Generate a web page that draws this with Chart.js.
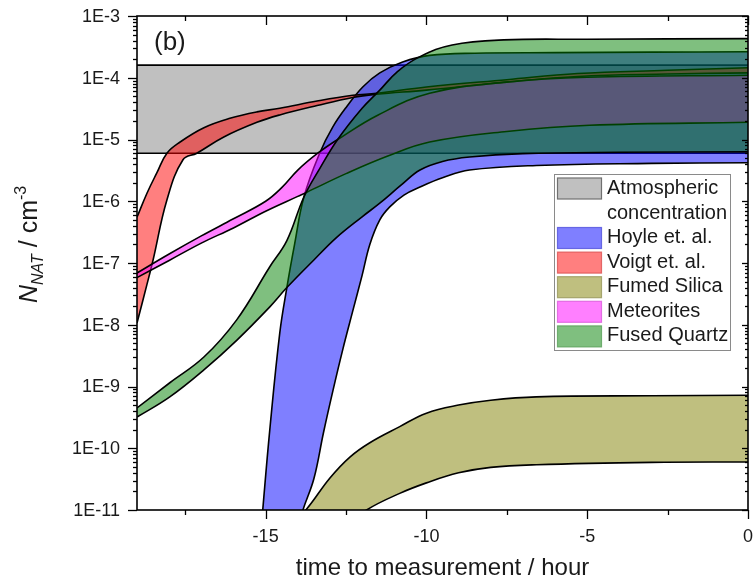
<!DOCTYPE html>
<html>
<head>
<meta charset="utf-8">
<script src="https://cdn.jsdelivr.net/npm/chart.js@4.4.1/dist/chart.umd.min.js"></script>
<style>
  html, body { margin: 0; padding: 0; background: #fff; }
  canvas { display: block; }
</style>
</head>
<body>
<canvas id="chart" width="754" height="583"></canvas>
<script>
// x: time to measurement in hours, y: N_NAT in cm^-3 (log)
const xTicks = [-15, -10, -5, 0];
const xMinorTicks = [-17.5, -12.5, -7.5, -2.5];
const yTicks = [1e-11, 1e-10, 1e-9, 1e-8, 1e-7, 1e-6, 1e-5, 1e-4, 1e-3];

// atmospheric range
const atmX = [-19, 0];
const atmUpper = [1.6e-4, 1.6e-4];
const atmLower = [6e-6, 6e-6];

// Hoyle et. al.
const hoyleUpperX = [-15.3, -15.09, -14.87, -14.56, -14.34, -14.1, -13.81, -13.32, -12.91, -12.48, -11.98, -11.45, -10.74, -9.9, -8.5, -6, -3, 0];
const hoyleUpper = [5e-13, 1e-11, 2.0e-10, 7.4e-9, 4.0e-8, 2.0e-7, 1.17e-6, 6.0e-6, 1.6e-5, 3.4e-5, 7.1e-5, 1.2e-4, 1.8e-4, 2.3e-4, 2.5e-4, 2.55e-4, 2.6e-4, 2.63e-4];
const hoyleLowerX = [-15.3, -14.4, -13.84, -13.5, -13.2, -12.9, -12.6, -12.3, -12.0, -11.76, -11.45, -11.14, -10.7, -10.2, -9.5, -8.66, -6.58, -3, 0];
const hoyleLower = [1e-14, 1e-12, 1e-11, 3.2e-11, 1.8e-10, 8.9e-10, 4.0e-9, 1.6e-8, 6.3e-8, 2.0e-7, 5.0e-7, 8.1e-7, 1.26e-6, 1.7e-6, 2.4e-6, 3.2e-6, 3.8e-6, 4.1e-6, 4.2e-6];

// Voigt et. al.
const voigtUpperX = [-19, -18.69, -18.38, -18.07, -17.66, -16.92, -16.11, -15.27, -14.56, -13.4, -12.29, -11.55, -10, -7.5, -5.3, -2.5, 0];
const voigtUpper = [5.5e-7, 1.35e-6, 2.9e-6, 6.0e-6, 9.1e-6, 1.55e-5, 2.2e-5, 2.8e-5, 3.2e-5, 4.2e-5, 5.2e-5, 5.6e-5, 7.1e-5, 9.3e-5, 1.17e-4, 1.32e-4, 1.45e-4];
const voigtLowerX = [-19, -18.69, -18.5, -18.07, -17.57, -17.14, -16.3, -15.27, -14.56, -13.4, -12.29, -11.55, -10, -7.5, -5.3, -2.5, 0];
const voigtLower = [1.07e-8, 4.5e-8, 1.12e-7, 1.05e-6, 4.7e-6, 6.0e-6, 1.1e-5, 1.9e-5, 2.5e-5, 3.55e-5, 4.8e-5, 5.4e-5, 6.3e-5, 8.5e-5, 1.05e-4, 1.15e-4, 1.2e-4];

// Fumed Silica
const fumedUpperX = [-14.5, -13.75, -13.0, -12.38, -11.76, -10.83, -10.0, -9.0, -8.0, -6.58, -3, 0];
const fumedUpper = [4.0e-12, 1.0e-11, 3.3e-11, 7.2e-11, 1.23e-10, 2.24e-10, 3.7e-10, 5.0e-10, 6.0e-10, 6.8e-10, 7.1e-10, 7.2e-10];
const fumedLowerX = [-14.5, -13.5, -11.86, -10.83, -10.0, -9.0, -8.0, -6.58, -3, 0];
const fumedLower = [4.0e-13, 2.5e-12, 1.0e-11, 1.86e-11, 2.75e-11, 4.0e-11, 4.9e-11, 5.4e-11, 5.9e-11, 6.0e-11];

// Meteorites
const meteorUpperX = [-19, -18, -17, -16, -15, -14.5, -14, -13.38, -12.76, -11.5, -9.9, -7.5, -5, 0];
const meteorUpper = [6.9e-8, 1.4e-7, 2.75e-7, 5.2e-7, 1.0e-6, 1.66e-6, 3.2e-6, 6.0e-6, 1.0e-5, 2.5e-5, 5.6e-5, 8.5e-5, 1.02e-4, 1.1e-4];
const meteorLowerX = [-19, -18, -17, -16, -15, -14, -13.72, -12.5, -11.2, -9.9, -7.5, -4.93, 0];
const meteorLower = [5.8e-8, 1.1e-7, 2.1e-7, 3.7e-7, 6.9e-7, 1.2e-6, 1.4e-6, 2.8e-6, 5.4e-6, 9.1e-6, 1.35e-5, 1.7e-5, 1.9e-5];

// Fused Quartz
const quartzUpperX = [-19, -17.98, -16.92, -15.9, -14.87, -14.34, -13.81, -13.3, -12.76, -12.0, -11.45, -10.9, -10.2, -9.2, -7.6, -5, 0];
const quartzUpper = [4.5e-10, 1.15e-9, 3.0e-9, 1.2e-8, 8.7e-8, 2.3e-7, 1.17e-6, 3.5e-6, 1.0e-5, 3.2e-5, 6.3e-5, 1.26e-4, 2.2e-4, 3.4e-4, 4.1e-4, 4.2e-4, 4.3e-4];
const quartzLowerX = [-19, -17.98, -16.92, -15.9, -14.87, -14.34, -13.5, -12.79, -12.0, -11.45, -10.8, -10.2, -9.5, -8.66, -7, -4, 0];
const quartzLower = [3.2e-10, 6.8e-10, 1.86e-9, 5.6e-9, 1.95e-8, 4.0e-8, 1.12e-7, 2.6e-7, 5.6e-7, 9.3e-7, 1.8e-6, 3.2e-6, 4.4e-6, 5.2e-6, 5.9e-6, 6.2e-6, 6.3e-6];

const legendNames = ['Atmospheric\nconcentration', 'Hoyle et. al.', 'Voigt et. al.', 'Fumed Silica', 'Meteorites', 'Fused Quartz'];

const bands = [
  { xUp: atmX, up: atmUpper, xLo: atmX, lo: atmLower, color: 'rgb(192,192,192)', edge: '#707070' },
  { xUp: hoyleUpperX, up: hoyleUpper, xLo: hoyleLowerX, lo: hoyleLower, color: 'rgba(0,0,255,0.5)', edge: 'rgba(80,80,220,0.8)' },
  { xUp: voigtUpperX, up: voigtUpper, xLo: voigtLowerX, lo: voigtLower, color: 'rgba(255,0,0,0.5)', edge: 'rgba(220,80,80,0.8)' },
  { xUp: fumedUpperX, up: fumedUpper, xLo: fumedLowerX, lo: fumedLower, color: 'rgba(128,128,0,0.5)', edge: 'rgba(150,150,90,0.8)' },
  { xUp: meteorUpperX, up: meteorUpper, xLo: meteorLowerX, lo: meteorLower, color: 'rgba(255,0,255,0.5)', edge: 'rgba(220,90,220,0.8)' },
  { xUp: quartzUpperX, up: quartzUpper, xLo: quartzLowerX, lo: quartzLower, color: 'rgba(0,128,0,0.5)', edge: 'rgba(90,160,90,0.8)' }
];

const pts = (xs, ys) => xs.map((x, i) => ({ x, y: ys[i] }));

// each band = upper line filled down to its lower line
const datasets = [];
bands.forEach((b, i) => {
  datasets.push({ label: legendNames[i], data: pts(b.xUp, b.up), backgroundColor: b.color, fill: '+1' });
  datasets.push({ label: legendNames[i] + ' lower', data: pts(b.xLo, b.lo), fill: false });
});
// first band must end up underneath, so give it the highest order
datasets.forEach((d, i) => Object.assign(d, {
  order: datasets.length - i,
  borderColor: '#000',
  borderWidth: 1.6,
  pointRadius: 0,
  tension: 0.4
}));

const TEXT = '#1a1a1a';
const FONT = 'Arial, "Liberation Sans", sans-serif';

const decorations = {
  id: 'decorations',
  afterDraw(chart) {
    const { ctx, chartArea: a, scales: { x, y } } = chart;
    ctx.save();

    // frame + ticks on all four sides
    ctx.strokeStyle = '#000';
    ctx.lineWidth = 1.6;
    ctx.strokeRect(a.left, a.top, a.right - a.left, a.bottom - a.top);
    const seg = (x0, y0, x1, y1) => { ctx.beginPath(); ctx.moveTo(x0, y0); ctx.lineTo(x1, y1); ctx.stroke(); };
    ctx.lineWidth = 1.3;
    xTicks.forEach(v => {
      const p = Math.round(x.getPixelForValue(v)) + 0.5;
      seg(p, a.bottom, p, a.bottom + 9);
      seg(p, a.top, p, a.top + 9);
    });
    xMinorTicks.forEach(v => {
      const p = Math.round(x.getPixelForValue(v)) + 0.5;
      seg(p, a.bottom, p, a.bottom + 5);
      seg(p, a.top, p, a.top + 5);
    });
    yTicks.forEach((v, i) => {
      const p = Math.round(y.getPixelForValue(v)) + 0.5;
      seg(a.left - 9, p, a.left, p);
      seg(a.right - 6, p, a.right, p);
      if (i === yTicks.length - 1) return;
      for (let m = 2; m <= 9; m++) {
        const q = Math.round(y.getPixelForValue(v * m)) + 0.5;
        seg(a.left - 4, q, a.left, q);
        seg(a.right - 3, q, a.right, q);
      }
    });

    ctx.fillStyle = TEXT;

    // tick labels
    ctx.font = '18px ' + FONT;
    ctx.textAlign = 'center';
    ctx.textBaseline = 'alphabetic';
    xTicks.forEach(v => ctx.fillText(String(v), x.getPixelForValue(v), a.bottom + 32));
    ctx.textAlign = 'right';
    ctx.textBaseline = 'middle';
    yTicks.forEach(v => ctx.fillText('1E' + Math.round(Math.log10(v)), a.left - 17, y.getPixelForValue(v) + 1));

    // panel label
    ctx.font = '26px ' + FONT;
    ctx.textAlign = 'left';
    ctx.textBaseline = 'alphabetic';
    ctx.fillText('(b)', a.left + 17, a.top + 34);

    // x axis title
    ctx.font = '24px ' + FONT;
    ctx.textAlign = 'center';
    ctx.textBaseline = 'middle';
    ctx.fillText('time to measurement / hour', (a.left + a.right) / 2, 568);

    // y axis title: N_NAT / cm^-3, rotated
    ctx.save();
    ctx.translate(37, 303);
    ctx.rotate(-Math.PI / 2);
    ctx.textAlign = 'left';
    ctx.textBaseline = 'alphabetic';
    let cx = 0;
    const piece = (txt, font, dy) => { ctx.font = font; ctx.fillText(txt, cx, dy); cx += ctx.measureText(txt).width; };
    piece('N', 'italic 25px ' + FONT, 0);
    piece('NAT', 'italic 16px ' + FONT, 6);
    piece(' / cm', '25px ' + FONT, 0);
    piece('-3', '16px ' + FONT, -11);
    ctx.restore();

    // legend box
    const lx = 554, ly = 174, lw = 176, lh = 176;
    ctx.fillStyle = '#fff';
    ctx.fillRect(lx, ly, lw, lh);
    ctx.strokeStyle = '#8a8a8a';
    ctx.lineWidth = 1;
    ctx.strokeRect(lx + 0.5, ly + 0.5, lw, lh);
    ctx.font = '20px ' + FONT;
    ctx.textAlign = 'left';
    ctx.textBaseline = 'middle';
    let rowY = ly + 14;
    bands.forEach((b, i) => {
      const lines = legendNames[i].split('\n');
      ctx.fillStyle = b.color;
      ctx.fillRect(lx + 3.5, rowY - 10, 44, 21);
      ctx.strokeStyle = b.edge;
      ctx.lineWidth = 1.2;
      ctx.strokeRect(lx + 3.5, rowY - 10, 44, 21);
      ctx.fillStyle = TEXT;
      lines.forEach((t, k) => ctx.fillText(t, lx + 53, rowY + k * 25));
      rowY += lines.length * 25 - (i === 0 ? 0.5 : 0.4);
    });
    ctx.restore();
  }
};

new Chart(document.getElementById('chart'), {
  type: 'line',
  data: { datasets },
  options: {
    responsive: false,
    animation: false,
    events: [],
    devicePixelRatio: 1,
    elements: { line: { capBezierPoints: false } },
    layout: { padding: { left: 0, right: 6, top: 16, bottom: 0 } },
    plugins: { legend: { display: false }, tooltip: { enabled: false } },
    scales: {
      x: {
        type: 'linear',
        min: -19,
        max: 0,
        afterBuildTicks: s => { s.ticks = xTicks.map(v => ({ value: v })); },
        afterFit: s => { s.height = 73; },
        grid: { display: false, drawTicks: false },
        border: { display: false },
        ticks: { display: false }
      },
      y: {
        type: 'logarithmic',
        min: 1e-11,
        max: 1e-3,
        afterBuildTicks: s => { s.ticks = yTicks.map(v => ({ value: v })); },
        afterFit: s => { s.width = 137; },
        grid: { display: false, drawTicks: false },
        border: { display: false },
        ticks: { display: false }
      }
    }
  },
  plugins: [decorations]
});
</script>
</body>
</html>
